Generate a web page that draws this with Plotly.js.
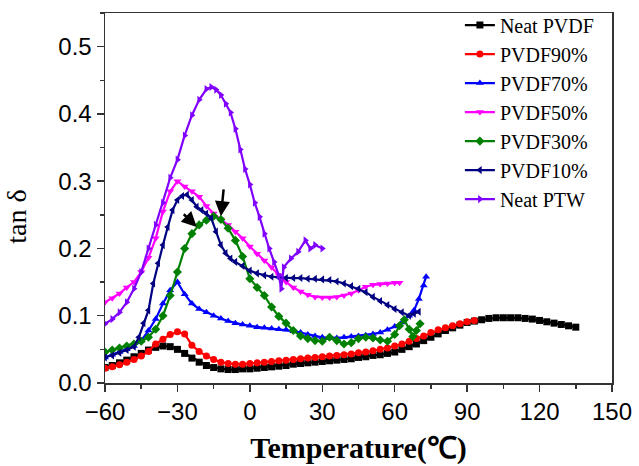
<!DOCTYPE html>
<html>
<head>
<meta charset="utf-8">
<script src="https://cdn.plot.ly/plotly-3.0.1.min.js"></script>
<style>html,body{margin:0;padding:0;background:#fff;}#chart{width:639px;height:466px;}</style>
</head>
<body>
<div id="chart"></div>
<script>
// Neat PVDF
const xPVDF = [-60,-57,-54,-51,-48,-45,-42,-39,-36,-33,-30,-27,-24,-21,-18,-15,-12,-9,-6,-3,0,3,6,9,12,15,18,21,24,27,30,33,36,39,42,45,48,51,54,57,60,63,66,69,72,75,78,81,84,87,90,93,96,99,102,105,108,111,114,117,120,123,126,129,132,135];
const yPVDF = [0.023,0.026,0.030,0.034,0.039,0.044,0.049,0.053,0.055,0.054,0.050,0.044,0.037,0.031,0.026,0.023,0.021,0.020,0.020,0.021,0.021,0.022,0.023,0.024,0.025,0.026,0.028,0.029,0.030,0.031,0.032,0.033,0.034,0.035,0.036,0.038,0.039,0.041,0.042,0.044,0.046,0.050,0.054,0.058,0.063,0.068,0.073,0.078,0.082,0.086,0.090,0.092,0.094,0.096,0.097,0.097,0.097,0.097,0.096,0.095,0.093,0.091,0.089,0.087,0.085,0.083];
// PVDF90%
const x90 = [-60,-57,-54,-51,-48,-45,-42,-39,-36,-33,-30,-27,-24,-21,-18,-15,-12,-9,-6,-3,0,3,6,9,12,15,18,21,24,27,30,33,36,39,42,45,48,51,54,57,60,63,66,69,72,75,78,81,84,87,90,93];
const y90 = [0.022,0.024,0.027,0.031,0.035,0.040,0.047,0.058,0.065,0.072,0.076,0.073,0.056,0.047,0.040,0.035,0.031,0.029,0.028,0.028,0.029,0.030,0.031,0.032,0.033,0.034,0.035,0.036,0.037,0.038,0.039,0.040,0.041,0.042,0.043,0.045,0.046,0.048,0.050,0.052,0.055,0.058,0.062,0.066,0.070,0.075,0.079,0.082,0.085,0.088,0.091,0.093];
// PVDF70%
const x70 = [-60,-57,-54,-51,-48,-45,-42,-39,-36,-33,-30,-27,-24,-21,-18,-15,-12,-9,-6,-3,0,3,6,9,12,15,18,21,24,27,30,33,36,39,42,45,48,51,54,57,60,63,66,68,70,72,73];
const y70 = [0.038,0.042,0.046,0.050,0.055,0.063,0.078,0.095,0.118,0.138,0.150,0.132,0.118,0.110,0.105,0.100,0.096,0.092,0.089,0.087,0.085,0.083,0.082,0.081,0.080,0.079,0.077,0.075,0.072,0.070,0.068,0.067,0.067,0.068,0.069,0.070,0.071,0.073,0.075,0.079,0.084,0.090,0.100,0.108,0.125,0.145,0.158];
// PVDF50%
const x50 = [-60,-57,-54,-51,-48,-45,-42,-39,-36,-33,-30,-27,-24,-21,-18,-15,-12,-9,-6,-3,0,3,6,9,12,15,18,21,24,27,30,33,36,39,42,45,48,51,54,57,60,62];
const y50 = [0.120,0.126,0.133,0.142,0.150,0.165,0.186,0.215,0.255,0.285,0.300,0.292,0.285,0.277,0.263,0.252,0.243,0.235,0.225,0.215,0.203,0.192,0.182,0.172,0.160,0.150,0.142,0.136,0.131,0.128,0.127,0.127,0.128,0.130,0.133,0.138,0.143,0.146,0.147,0.148,0.149,0.149];
// PVDF30%
const x30 = [-60,-57,-54,-51,-48,-45,-42,-39,-36,-33,-30,-27,-24,-21,-18,-15,-12,-9,-6,-3,0,3,6,9,12,15,18,21,24,27,30,33,36,39,42,45,48,51,54,57,60,62,64,66,67.5,69,70.5];
const y30 = [0.046,0.049,0.052,0.055,0.058,0.062,0.068,0.080,0.100,0.130,0.165,0.200,0.222,0.235,0.242,0.248,0.243,0.230,0.212,0.188,0.155,0.142,0.130,0.113,0.099,0.089,0.078,0.070,0.066,0.063,0.062,0.068,0.063,0.058,0.060,0.066,0.068,0.067,0.064,0.062,0.072,0.085,0.094,0.080,0.069,0.078,0.088];
// PVDF10%
const x10 = [-60,-57,-54,-51,-48,-46,-44,-42,-40,-38,-36,-34,-32,-30,-28,-26,-24,-22,-20,-18,-16,-14,-12,-10,-8,-6,-3,0,3,6,9,12,15,18,21,24,27,30,33,36,39,42,45,48,51,54,57,60,63,66,68,70];
const y10 = [0.038,0.041,0.045,0.049,0.054,0.068,0.089,0.108,0.148,0.178,0.205,0.232,0.257,0.272,0.278,0.280,0.272,0.262,0.257,0.252,0.245,0.225,0.205,0.193,0.185,0.180,0.174,0.167,0.163,0.160,0.158,0.157,0.156,0.156,0.156,0.155,0.155,0.154,0.153,0.151,0.148,0.144,0.140,0.135,0.128,0.122,0.116,0.110,0.105,0.100,0.103,0.106];
// Neat PTW
const xPTW = [-60,-57,-54,-51,-48,-45,-42,-39,-36,-33,-30,-27,-24,-21,-18,-16,-14,-12,-10,-8,-6,-4,-2,0,2,4,6,8,10,12,13,14,17,20,23,25,27,30];
const yPTW = [0.088,0.095,0.105,0.120,0.140,0.165,0.200,0.235,0.268,0.305,0.332,0.368,0.398,0.421,0.437,0.440,0.436,0.428,0.415,0.402,0.378,0.347,0.318,0.295,0.268,0.247,0.222,0.200,0.180,0.160,0.140,0.172,0.185,0.195,0.212,0.200,0.205,0.200];

const names = ['Neat PVDF','PVDF90%','PVDF70%','PVDF50%','PVDF30%','PVDF10%','Neat PTW'];
const colors = ['#000000','#ff0000','#0000ff','#ff00ff','#008000','#000080','#8000ff'];
const symbols = ['square','circle','triangle-up','triangle-down','diamond','triangle-left','triangle-right'];
const xs = [xPVDF,x90,x70,x50,x30,x10,xPTW];
const ys = [yPVDF,y90,y70,y50,y30,y10,yPTW];

// arrows: [headX, headY, tailX, tailY]
const arrow1 = [-22, 0.232, -28, 0.253];
const arrow2 = [-12, 0.248, -10.8, 0.29];

const traces = names.map((n,i)=>({
  type:'scatter', mode:'lines+markers', name:n, x:xs[i], y:ys[i],
  line:{color:colors[i], width:2.2},
  marker:{color:colors[i], symbol:symbols[i], size:7}
}));

const serif = 'Liberation Serif, Times New Roman, serif';
const sans = 'Liberation Sans, Arial, sans-serif';

const layout = {
  width:639, height:466,
  margin:{l:105, r:27, t:13, b:83, autoexpand:false},
  paper_bgcolor:'#fff', plot_bgcolor:'#fff',
  showlegend:true,
  legend:{x:0.70, xanchor:'left', y:1.02, yanchor:'top', bgcolor:'rgba(0,0,0,0)',
    font:{family:serif, size:20, color:'#000'}, tracegroupgap:0},
  xaxis:{range:[-60,150], dtick:30, tick0:0, ticks:'outside', ticklen:7, tickwidth:1.5,
    tickcolor:'#333', showline:true, linecolor:'#333', linewidth:1.5, mirror:true,
    showgrid:false, zeroline:false,
    minor:{dtick:15, ticks:'outside', ticklen:4, tickwidth:1.5, tickcolor:'#333', showgrid:false},
    tickfont:{family:sans, size:24, color:'#000'},
    title:{text:'<b>Temperature(℃)</b>', font:{family:serif, size:30, color:'#000'}, standoff:12}},
  yaxis:{range:[0,0.55], dtick:0.1, tick0:0, tickformat:'.1f', ticks:'outside', ticklen:7, tickwidth:1.5,
    tickcolor:'#333', showline:true, linecolor:'#333', linewidth:1.5, mirror:true,
    showgrid:false, zeroline:false,
    minor:{dtick:0.05, ticks:'outside', ticklen:4, tickwidth:1.5, tickcolor:'#333', showgrid:false},
    tickfont:{family:sans, size:24, color:'#000'}},
  annotations:[
    {xref:'paper', yref:'paper', x:-0.175, y:0.45, text:'tan δ', textangle:-90, showarrow:false,
     font:{family:serif, size:28, color:'#000'}, xanchor:'center', yanchor:'middle'},
    {x:arrow1[0], y:arrow1[1], ax:arrow1[2], ay:arrow1[3], axref:'x', ayref:'y', xref:'x', yref:'y',
     showarrow:true, arrowhead:2, arrowsize:1.2, arrowwidth:2.5, arrowcolor:'#000', text:''},
    {x:arrow2[0], y:arrow2[1], ax:arrow2[2], ay:arrow2[3], axref:'x', ayref:'y', xref:'x', yref:'y',
     showarrow:true, arrowhead:2, arrowsize:1.2, arrowwidth:2.5, arrowcolor:'#000', text:''}
  ]
};

Plotly.newPlot('chart', traces, layout, {displayModeBar:false, staticPlot:true});
</script>
</body>
</html>
